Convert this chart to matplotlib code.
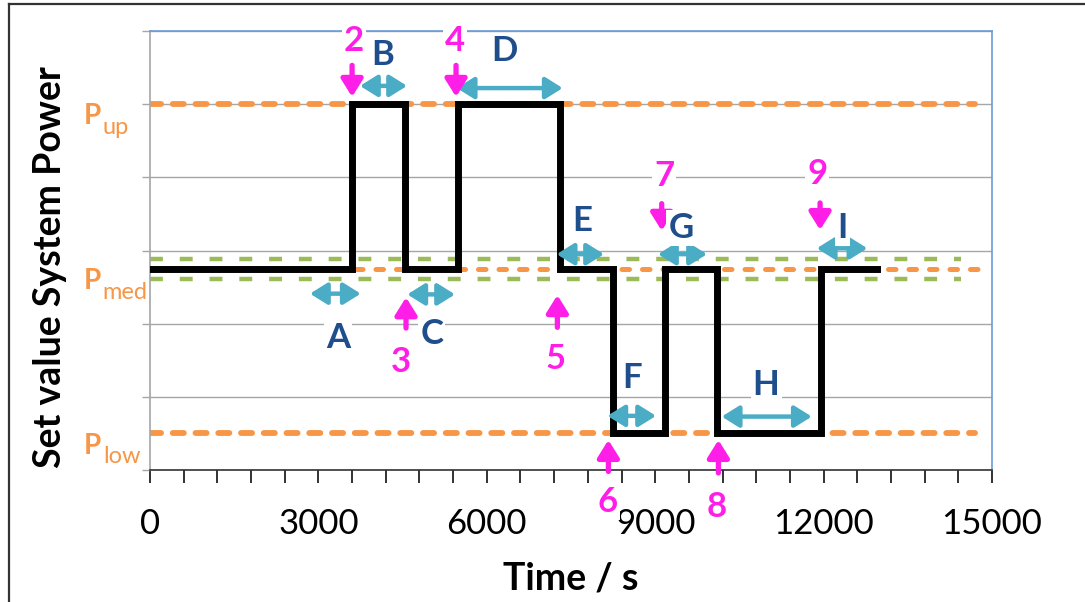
import numpy as np
import matplotlib.pyplot as plt
from matplotlib.lines import Line2D

plt.rcParams['font.family'] = ['Lato', 'DejaVu Sans']

# set value levels (arbitrary units on a 0..6 scale)
P_UP = 5.0
P_MED = 2.75
P_LOW = 0.5
band_hi = 2.89   # green tolerance band around P_med
band_lo = 2.61

# step profile: switching times (s) and level held after each switch
step_times = [0, 3600, 4550, 5480, 7300, 8250, 9170, 10100, 11950, 12950]
step_levels = [P_MED, P_UP, P_MED, P_UP, P_MED, P_LOW, P_MED, P_LOW, P_MED, P_MED]

ref_end = 14700
band_end = 14450

x_ticks = [0, 3000, 6000, 9000, 12000, 15000]

# event numbers: (label, text x, text y, arrow tail y, arrow tip y, arrow x)
events = [
    ("2", 3634, 5.86, 5.53, 5.10, 3600),
    ("4", 5434, 5.86, 5.53, 5.10, 5452),
    ("7", 9157, 4.02, 3.64, 3.27, 9116),
    ("9", 11884, 4.05, 3.65, 3.28, 11937),
    ("3", 4472, 1.48, 1.94, 2.36, 4561),
    ("5", 7233, 1.52, 1.95, 2.39, 7257),
    ("6", 8151, -0.44, -0.02, 0.41, 8166),
    ("8", 10102, -0.50, -0.04, 0.41, 10126),
]

# phase letters: (label, text x, text y, arrow start, arrow end, arrow y)
phases = [
    ("A", 3355, 1.81, 2850, 3754, 2.41),
    ("B", 4142, 5.67, 3741, 4579, 5.25),
    ("C", 5018, 1.86, 4584, 5434, 2.40),
    ("D", 6307, 5.72, 5464, 7352, 5.22),
    ("E", 7705, 3.40, 7245, 8088, 2.95),
    ("F", 8596, 1.26, 8148, 9015, 0.74),
    ("G", 9460, 3.31, 9050, 9923, 2.95),
    ("H", 10975, 1.16, 10185, 11789, 0.73),
    ("I", 12337, 3.31, 11878, 12780, 3.03),
]

orange = '#f79646'
green = '#9bbb59'
magenta = '#ff1ee8'
navy = '#1f4e8c'
teal = '#4bacc6'
spine_blue = '#6a9ad4'

fig = plt.figure(figsize=(10.85, 6.02), dpi=100)
ax = fig.add_axes([150 / 1085, 132 / 602, 842 / 1085, 439 / 602])

ax.set_xlim(0, 15000)
ax.set_ylim(0, 6)

# gridlines
ax.set_yticks(np.arange(0, 7, 1))
ax.set_yticklabels([])
ax.grid(axis='y', color='#a6a6a6', lw=1.0, zorder=0)
ax.tick_params(axis='y', length=6, color='#a6a6a6', width=1)

ax.set_xticks(x_ticks)
ax.set_xticks(np.arange(0, 15001, 600), minor=True)
ax.set_xticklabels([str(t) for t in x_ticks], fontsize=25)
ax.tick_params(axis='x', which='both', direction='out', length=9, width=1.3,
               color='#222222', pad=18)

ax.spines['top'].set_color(spine_blue)
ax.spines['right'].set_color(spine_blue)
ax.spines['left'].set_color('#a6a6a6')
ax.spines['bottom'].set_color('#333333')
for s in ax.spines.values():
    s.set_linewidth(1.2)

# reference levels
ax.plot([0, ref_end], [P_UP, P_UP], color=orange, lw=4.2, dashes=(1.9, 2.0),
        dash_capstyle='round', zorder=2)
ax.plot([0, ref_end], [P_LOW, P_LOW], color=orange, lw=4.2, dashes=(1.9, 2.0),
        dash_capstyle='round', zorder=2)
ax.plot([0, ref_end + 60], [P_MED, P_MED], color=orange, lw=3.6, dashes=(1.5, 2.6),
        dash_capstyle='round', zorder=2)
ax.plot([0, band_end], [band_hi, band_hi], color=green, lw=3.2, dashes=(2.9, 3.8),
        zorder=2)
ax.plot([0, band_end], [band_lo, band_lo], color=green, lw=3.2, dashes=(2.9, 3.8),
        zorder=2)

# set value profile
ax.step(step_times, step_levels, where='post', color='black', lw=5,
        solid_joinstyle='miter', zorder=4)

tbox = dict(facecolor='white', edgecolor='none', pad=1.5)

for lab, tx, ty, y0, y1, axx in events:
    ax.text(tx, ty, lab, color=magenta, fontsize=25, fontweight='bold',
            ha='center', va='center', bbox=tbox, zorder=6, clip_on=False)
    ax.annotate('', xy=(axx, y1), xytext=(axx, y0), annotation_clip=False,
                arrowprops=dict(arrowstyle='-|>,head_length=0.8,head_width=0.5',
                                color=magenta, lw=3.8, shrinkA=0, shrinkB=0,
                                mutation_scale=13), zorder=6)

for lab, tx, ty, x0, x1, ay in phases:
    ax.text(tx, ty, lab, color=navy, fontsize=25, fontweight='bold',
            ha='center', va='center', bbox=tbox, zorder=6)
    ax.annotate('', xy=(x1, ay), xytext=(x0, ay), annotation_clip=False,
                arrowprops=dict(arrowstyle='<|-|>,head_length=0.8,head_width=0.5',
                                color=teal, lw=3.2, shrinkA=0, shrinkB=0,
                                mutation_scale=13), zorder=5)

# level labels on the y axis
for lvl, sub in [(P_UP, 'up'), (P_MED, 'med'), (P_LOW, 'low')]:
    ax.annotate('P', xy=(0, lvl), xycoords=('axes fraction', 'data'),
                xytext=(-48, -14.5), textcoords='offset points', color=orange,
                fontsize=20, fontweight='bold', ha='left', va='baseline',
                annotation_clip=False)
    ax.annotate(sub, xy=(0, lvl), xycoords=('axes fraction', 'data'),
                xytext=(-34, -21.5), textcoords='offset points', color=orange,
                fontsize=17, ha='left', va='baseline', annotation_clip=False)

ax.set_xlabel('Time / s', fontsize=27, fontweight='bold', labelpad=16)
fig.text(50 / 1085, 1 - 267 / 602, 'Set value System Power', rotation=90,
         fontsize=27, fontweight='bold', ha='center', va='center')

# outer frame of the picture
fig.add_artist(Line2D([9 / 1085, 9 / 1085], [0, 1 - 4 / 602], color='#333333',
                      lw=1.6, transform=fig.transFigure))
fig.add_artist(Line2D([9 / 1085, 1], [1 - 4 / 602, 1 - 4 / 602], color='#333333',
                      lw=1.6, transform=fig.transFigure))

fig.savefig('out.png', dpi=100)
